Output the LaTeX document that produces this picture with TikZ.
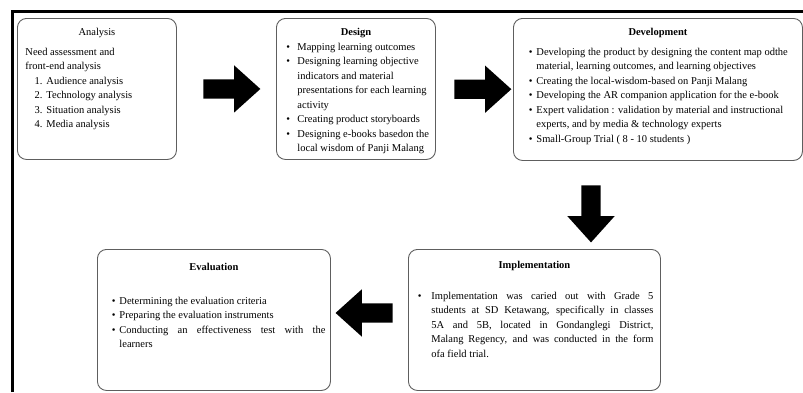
\documentclass[tikz,border=0pt]{standalone}
\usepackage{fontspec}
\setmainfont{Liberation Serif}
\usepackage{enumitem}
\usepackage{tikz}
\usetikzlibrary{shapes.arrows,calc}
\definecolor{boxline}{HTML}{5E5E5E}
\setlist{nosep}
\newcommand{\stagetext}[3]{\parbox[t][#2][t]{#1}{\fontsize{10.5}{14.5}\selectfont\sloppy #3}}

\begin{document}
\begin{tikzpicture}[x=1pt, y=-1pt,
  stagebox/.style={draw=boxline, rounded corners=9pt, line width=0.9pt, anchor=north west, inner ysep=0pt},
  flowarrow/.style={single arrow, fill=black, inner xsep=0pt, inner ysep=9.5pt, minimum height=57pt, single arrow head extend=14pt, single arrow tip angle=84}
]
  \useasboundingbox (0,0) rectangle (803,392);
  \draw[line width=3.5pt] (12.5,392) |- (803,11.5);

  \node[stagebox, inner xsep=8pt] (analysis) at (17,18) {\stagetext{143pt}{141pt}{\raggedright
    \vspace*{10pt}{\centering Analysis\par}\vspace{5pt}
    Need assessment and\\front-end analysis
    \begin{enumerate}[leftmargin=21pt, labelsep=4pt]
      \item Audience analysis
      \item Technology analysis
      \item Situation analysis
      \item Media analysis
    \end{enumerate}}};
  \node[stagebox, inner xsep=6pt] (design) at (276,18) {\stagetext{147pt}{141pt}{\raggedright
    \vspace*{10pt}{\centering\bfseries Design\par}
    \begin{itemize}[leftmargin=15pt, labelsep=7.5pt]
      \item Mapping learning outcomes
      \item Designing learning objective\\indicators and material\\presentations for each learning\\activity
      \item Creating product storyboards
      \item Designing e-books basedon the\\local wisdom of Panji Malang
    \end{itemize}}};
  \node[stagebox, inner xsep=6pt] (development) at (513,18) {\stagetext{277pt}{142pt}{\raggedright
    \vspace*{10pt}{\centering\bfseries Development\par}\vspace{5pt}
    \begin{itemize}[leftmargin=17pt, labelsep=4pt]
      \item Developing the product by designing the content map odthe\\material, learning outcomes, and learning objectives
      \item Creating the local-wisdom-based on Panji Malang
      \item Developing the AR companion application for the e-book
      \item Expert validation : validation by material and instructional\\experts, and by media \& technology experts
      \item Small-Group Trial ( 8 - 10 students )
    \end{itemize}}};
  \node[stagebox, inner xsep=7pt] (implementation) at (408,249) {\stagetext{238pt}{141pt}{
    \vspace*{12pt}{\centering\bfseries Implementation\par}\vspace{16pt}
    \begin{itemize}[leftmargin=16pt, labelsep=10pt]
      \item Implementation was caried out with Grade 5\linebreak students at SD Ketawang, specifically in classes\linebreak 5A and 5B, located in Gondanglegi District,\linebreak Malang Regency, and was conducted in the form\linebreak ofa field trial.
    \end{itemize}}};
  \node[stagebox, inner xsep=5pt] (evaluation) at (97,249) {\stagetext{223pt}{141pt}{
    \vspace*{14pt}{\centering\bfseries Evaluation\par}\vspace{19pt}
    \begin{itemize}[leftmargin=17pt, labelsep=4pt]
      \item Determining the evaluation criteria
      \item Preparing the evaluation instruments
      \item Conducting an effectiveness test with the\linebreak learners
    \end{itemize}}};

  \node[flowarrow] (toDesign) at ($(analysis.east)!0.5!(design.west)$) {};
  \node[flowarrow] (toDevelopment) at ($(design.east)!0.5!(development.west)+(3,0)$) {};
  \node[flowarrow, rotate=-90] (toImplementation) at (591,208.5) {};
  \node[flowarrow, rotate=180] (toEvaluation) at ($(implementation.west)!0.5!(evaluation.east)+(0,-7)$) {};
\end{tikzpicture}
\end{document}
